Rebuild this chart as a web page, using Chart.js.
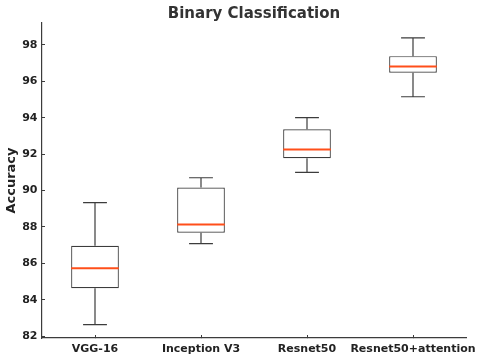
<!DOCTYPE html>
<html>
<head>
<meta charset="utf-8">
<script src="https://cdn.jsdelivr.net/npm/chart.js@4"></script>
<style>
    html, body { margin: 0; padding: 0; background: #fff; }
    #wrap { width: 480px; height: 356px; }
</style>
</head>
<body>
<div id="wrap"><canvas id="boxChart" width="480" height="356"></canvas></div>
<script>
// Данные боксплота
const models = ['VGG-16', 'Inception V3', 'Resnet50', 'Resnet50+attention'];
const whiskerLow = [82.64, 87.08, 91.0, 95.15];
const boxLow = [84.63, 87.68, 91.77, 96.47];
const medians = [85.73, 88.14, 92.25, 96.81];
const boxHigh = [86.97, 90.16, 93.36, 97.38];
const whiskerHigh = [89.34, 90.7, 94.0, 98.38];
const yTicks = [82, 84, 86, 88, 90, 92, 94, 96, 98];

const lineColor = '#3c3c3c';
const medianColor = '#ff4f1a';

// Плагин: усы и медианы
const boxExtras = {
    id: 'boxExtras',
    afterDatasetsDraw(chart) {
        const ctx = chart.ctx;
        const x = chart.scales.x;
        const y = chart.scales.y;
        const meta = chart.getDatasetMeta(0);
        ctx.save();
        meta.data.forEach((bar, i) => {
            const cx = x.getPixelForValue(i);
            const half = bar.width / 2;
            const cap = bar.width / 4;
            ctx.strokeStyle = lineColor;
            ctx.lineWidth = 1.2;
            ctx.beginPath();
            ctx.moveTo(cx, y.getPixelForValue(boxHigh[i]));
            ctx.lineTo(cx, y.getPixelForValue(whiskerHigh[i]));
            ctx.moveTo(cx, y.getPixelForValue(boxLow[i]));
            ctx.lineTo(cx, y.getPixelForValue(whiskerLow[i]));
            ctx.moveTo(cx - cap, y.getPixelForValue(whiskerHigh[i]));
            ctx.lineTo(cx + cap, y.getPixelForValue(whiskerHigh[i]));
            ctx.moveTo(cx - cap, y.getPixelForValue(whiskerLow[i]));
            ctx.lineTo(cx + cap, y.getPixelForValue(whiskerLow[i]));
            ctx.stroke();
            ctx.strokeStyle = medianColor;
            ctx.lineWidth = 2;
            ctx.beginPath();
            ctx.moveTo(cx - half, y.getPixelForValue(medians[i]));
            ctx.lineTo(cx + half, y.getPixelForValue(medians[i]));
            ctx.stroke();
        });
        ctx.restore();
    }
};

const tickFont = { family: 'DejaVu Sans', size: 11, weight: 'bold' };

new Chart(document.getElementById('boxChart'), {
    type: 'bar',
    data: {
        labels: models,
        datasets: [{
            data: models.map((m, i) => [boxLow[i], boxHigh[i]]),
            backgroundColor: '#ffffff',
            borderColor: lineColor,
            borderWidth: 1.2,
            borderSkipped: false,
            barPercentage: 0.45,
            categoryPercentage: 1
        }]
    },
    options: {
        responsive: false,
        animation: false,
        layout: { padding: { left: 0, right: 14, top: 0, bottom: 0 } },
        plugins: {
            legend: { display: false },
            tooltip: { enabled: false },
            title: {
                display: true,
                text: 'Binary Classification',
                fullSize: false,
                color: '#333333',
                font: { family: 'DejaVu Sans', size: 15, weight: 'bold' },
                padding: { top: 5, bottom: 0 }
            }
        },
        scales: {
            x: {
                // засечки внутрь, по центру категорий
                grid: { offset: false, drawOnChartArea: false, tickLength: -3, tickColor: lineColor },
                border: { color: lineColor, width: 1.2 },
                ticks: { color: '#222222', font: tickFont, padding: 8, maxRotation: 0, autoSkip: false },
                afterFit: s => {
                    s.height = 18;
                    s.paddingLeft = 0;
                    s.paddingRight = 0;
                }
            },
            y: {
                min: 81.9,
                max: 99.2,
                afterBuildTicks: s => { s.ticks = yTicks.map(v => ({ value: v })); },
                grid: { drawOnChartArea: false, tickLength: -3, tickColor: lineColor },
                border: { color: lineColor, width: 1.2 },
                ticks: { color: '#222222', font: tickFont, padding: 7.5 },
                title: {
                    display: true,
                    text: 'Accuracy',
                    color: '#222222',
                    font: { family: 'DejaVu Sans', size: 13, weight: 'bold' },
                    padding: { top: 4, bottom: 0 }
                },
                afterFit: s => {
                    s.width = 42;
                    s.paddingTop = 0;
                    s.paddingBottom = 0;
                }
            }
        }
    },
    plugins: [boxExtras]
});
</script>
</body>
</html>
